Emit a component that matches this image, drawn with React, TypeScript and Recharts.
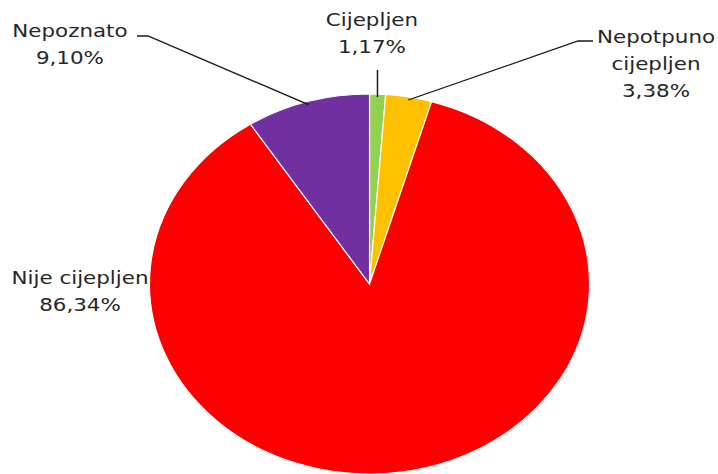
import React from 'react';
import { PieChart, Pie, Cell } from 'recharts';

const categories = ['Cijepljen', 'Nepotpuno cijepljen', 'Nije cijepljen', 'Nepoznato'];
const shares = [1.17, 3.38, 86.34, 9.10];
const colors = ['#92D050', '#FFC000', '#FF0000', '#7030A0'];
const labelLines: string[][] = [['Cijepljen'], ['Nepotpuno', 'cijepljen'], ['Nije cijepljen'], ['Nepoznato']];

const data = categories.map((name, i) => ({ name, value: shares[i] }));

// Layout (pre-stretch SVG coordinates)
const STRETCH = 1.158;
const W = 613;
const H = 466;
const CX = 312.2;
const CY = 276;
const R = 190;
const LINE_H = 27;

type LabelLayout = { x: number; y: number; leader: number[][] | null; straightUp?: number };
const labelLayout: LabelLayout[] = [
  { x: 314.3, y: 12, leader: null, straightUp: 62 },
  { x: 559.6, y: 29, leader: [[492.2, 33], [505.2, 33]] },
  { x: 62.2, y: 270, leader: null },
  { x: 53.5, y: 23, leader: [[120.9, 28], [111.4, 28]] },
];

const RAD = Math.PI / 180;
const fmt = (v: number) => v.toFixed(2).replace('.', ',') + '%';

const renderLabel = (props: any) => {
  const { cx, cy, midAngle, outerRadius, index, value } = props;
  const lay = labelLayout[index];
  const r = outerRadius - 3;
  const ex = cx + r * Math.cos(-midAngle * RAD);
  const ey = cy + r * Math.sin(-midAngle * RAD);
  let path: string | null = null;
  if (lay.leader) {
    path = `M${ex},${ey}` + lay.leader.map((p) => ` L${p[0]},${p[1]}`).join('');
  } else if (lay.straightUp !== undefined) {
    path = `M${ex},${ey} L${ex},${lay.straightUp}`;
  }
  const lines = [...labelLines[index], fmt(value)];
  return (
    <g key={`lbl-${index}`}>
      {path && <path d={path} stroke="#1a1a1a" strokeWidth={1.3} fill="none" />}
      {lines.map((t, i) => (
        <text
          key={i}
          x={lay.x}
          y={lay.y + i * LINE_H}
          textAnchor="middle"
          dominantBaseline="central"
          fontFamily="'DejaVu Sans', Verdana, sans-serif"
          fontSize={18.5}
          fill="#262626"
        >
          {t}
        </text>
      ))}
    </g>
  );
};

export default function App() {
  return (
    <div
      style={{
        position: 'fixed',
        left: 0,
        top: 0,
        width: 718,
        height: 474,
        overflow: 'hidden',
        background: '#fff',
      }}
    >
      <div
        style={{
          position: 'absolute',
          left: 8,
          top: 8,
          width: W,
          height: H,
          transform: `scaleX(${STRETCH})`,
          transformOrigin: '0 0',
        }}
      >
        <PieChart width={W} height={H} style={{ overflow: 'visible' }} margin={{ top: 0, right: 0, bottom: 0, left: 0 }}>
          <Pie
            data={data}
            dataKey="value"
            nameKey="name"
            cx={CX}
            cy={CY}
            outerRadius={R}
            startAngle={90}
            endAngle={-270}
            stroke="#ffffff"
            strokeWidth={1}
            label={renderLabel}
            labelLine={false}
            isAnimationActive={false}
          >
            {data.map((d, i) => (
              <Cell key={d.name} fill={colors[i]} />
            ))}
          </Pie>
        </PieChart>
      </div>
    </div>
  );
}
